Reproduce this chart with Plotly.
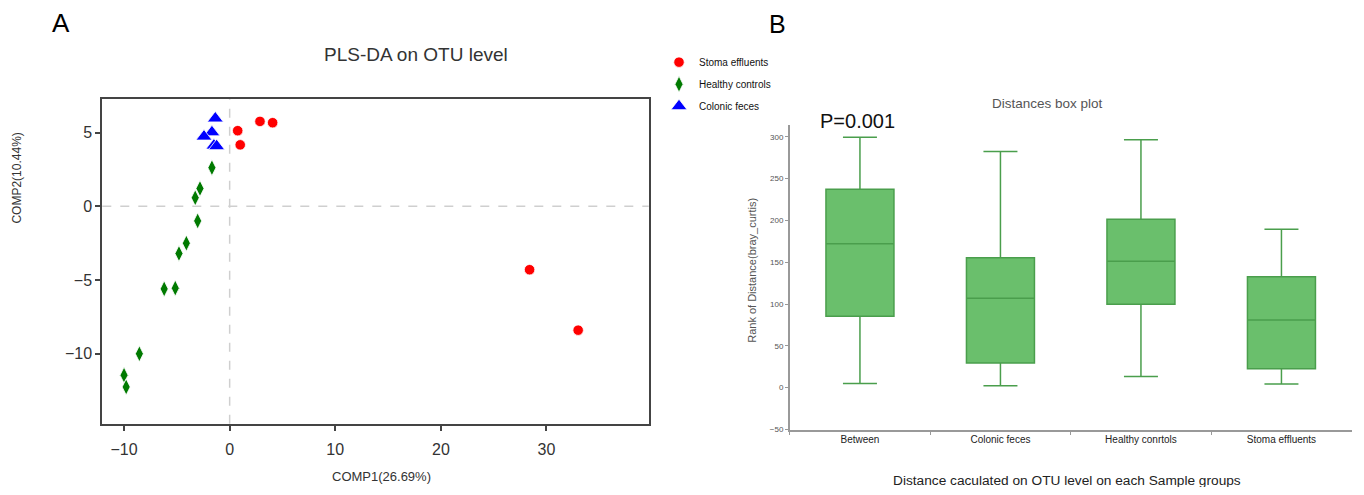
import plotly.graph_objects as go

# ---------------- Panel A data (PLS-DA scores) ----------------
stoma_x = [0.76, 1.0, 2.87, 4.07, 28.4, 33.0]
stoma_y = [5.13, 4.17, 5.76, 5.67, -4.3, -8.4]

healthy_x = [-1.68, -2.81, -3.26, -3.03, -4.1, -4.8, -6.2, -5.15, -8.55, -10.0, -9.8]
healthy_y = [2.62, 1.21, 0.58, -0.99, -2.5, -3.2, -5.6, -5.55, -10.0, -11.45, -12.25]

colonic_x = [-1.36, -1.68, -2.43, -1.49, -1.23]
colonic_y = [5.96, 5.02, 4.73, 4.12, 4.08]

pls_xticks = [-10, 0, 10, 20, 30]
pls_yticks = [-10, -5, 0, 5]

# ---------------- Panel B data (distance box plot) ----------------
groups = ["Between", "Colonic feces", "Healthy conrtols", "Stoma effluents"]
q1 = [85.5, 29.4, 99.8, 22.7]
median = [172.1, 106.9, 151.3, 80.8]
q3 = [237.4, 155.5, 201.4, 132.6]
lowerfence = [4.9, 2.1, 13.2, 4.2]
upperfence = [299.6, 282.5, 296.7, 189.6]
box_yticks = [-50, 0, 50, 100, 150, 200, 250, 300]

FONT = "Liberation Sans, Arial, sans-serif"
OFF = 8  # default page body margin
W, H = 1364 - 2 * OFF, 495 - 2 * OFF

def px(x):
    return (x - OFF) / W

def py(y):
    return 1 - (y - OFF) / H

fig = go.Figure()

fig.add_trace(go.Scatter(
    x=stoma_x, y=stoma_y, mode="markers", name="Stoma effluents",
    marker=dict(symbol="circle", size=10.5, color="#ff0000", line=dict(color="white", width=0.8)),
    xaxis="x", yaxis="y", legendgroup="a"))
fig.add_trace(go.Scatter(
    x=healthy_x, y=healthy_y, mode="markers", name="Healthy controls",
    marker=dict(symbol="diamond-tall", size=11.5, color="#007a00", line=dict(color="white", width=0.8)),
    xaxis="x", yaxis="y", legendgroup="b"))
fig.add_trace(go.Scatter(
    x=colonic_x, y=colonic_y, mode="markers", name="Colonic feces",
    marker=dict(symbol="triangle-up", size=14, color="#0000ff", line=dict(color="white", width=0.8)),
    xaxis="x", yaxis="y", legendgroup="c"))

fig.add_trace(go.Box(
    x=groups, q1=q1, median=median, q3=q3,
    lowerfence=lowerfence, upperfence=upperfence,
    xaxis="x2", yaxis="y2", showlegend=False,
    fillcolor="#6abf6c", line=dict(color="#4a9e4c", width=1.5),
    width=0.484, whiskerwidth=0.5, boxpoints=False, hoverinfo="skip"))

# zero reference lines in panel A
fig.add_shape(type="line", xref="x", yref="y domain", x0=0, x1=0, y0=0, y1=1,
              line=dict(color="#cfcfcf", width=1.5, dash="dash"), layer="below")
fig.add_shape(type="line", xref="x domain", yref="y", x0=0, x1=1, y0=0, y1=0,
              line=dict(color="#cfcfcf", width=1.5, dash="dash"), layer="below")

fig.update_layout(
    width=W, height=H,
    margin=dict(l=0, r=0, t=0, b=0),
    paper_bgcolor="white", plot_bgcolor="white",
    font=dict(family=FONT, color="#333"),
    showlegend=True,
    legend=dict(x=px(659), y=py(48), xanchor="left", yanchor="top",
                font=dict(size=10, color="#111", family=FONT),
                bgcolor="rgba(0,0,0,0)", tracegroupgap=3, traceorder="grouped",
                itemsizing="trace", itemwidth=30),
    xaxis=dict(domain=[px(102.3), px(648.7)], range=[-12.06, 39.68],
               tickvals=pls_xticks, ticks="outside", ticklen=5, tickwidth=1.5, tickcolor="#444",
               showline=True, mirror=True, linecolor="#444", linewidth=2,
               showgrid=False, zeroline=False, ticklabelstandoff=5,
               tickfont=dict(size=16, color="#333", family=FONT), anchor="y"),
    yaxis=dict(domain=[py(427.3), py(99.3)], range=[-14.75, 7.31],
               tickvals=pls_yticks, ticks="outside", ticklen=5, tickwidth=1.5, tickcolor="#444",
               showline=True, mirror=True, linecolor="#444", linewidth=2,
               showgrid=False, zeroline=False,
               tickfont=dict(size=16, color="#333", family=FONT), anchor="x"),
    xaxis2=dict(domain=[px(789.7), px(1351.7)], type="category", range=[-0.5, 3.5],
                ticks="outside", tickson="boundaries", ticklen=4, tickcolor="#999",
                showline=True, linecolor="#999", linewidth=1.5,
                showgrid=False, zeroline=False,
                tickfont=dict(size=10, color="#222", family=FONT), anchor="y2"),
    yaxis2=dict(domain=[py(433.3), py(126)], range=[-50.4, 314.2],
                tickvals=box_yticks, ticks="outside", ticklen=3, tickcolor="#999",
                showline=True, linecolor="#999", linewidth=1.5,
                showgrid=False, zeroline=False,
                tickfont=dict(size=8, color="#555", family=FONT), anchor="x2"),
)

ann = [
    dict(text="A", x=px(61), y=py(23), size=26, color="#000"),
    dict(text="PLS-DA on OTU level", x=px(416), y=py(55), size=19, color="#333"),
    dict(text="COMP1(26.69%)", x=px(382), y=py(480), size=13, color="#333"),
    dict(text="Distances box plot", x=px(1047), y=py(104), size=13.5, color="#555"),
    dict(text="P=0.001", x=px(857), y=py(122), size=20, color="#111"),
    dict(text="Distance caculated on OTU level on each Sample groups", x=px(1067), y=py(484),
         size=13.7, color="#222"),
]
for a in ann:
    fig.add_annotation(text=a["text"], x=a["x"], y=a["y"], xref="paper", yref="paper",
                       showarrow=False, xanchor="center", yanchor="middle",
                       font=dict(size=a["size"], color=a["color"], family=FONT))

# panel letter B kept inside the page's top edge
fig.add_annotation(text="B", x=px(777), y=1, xref="paper", yref="paper",
                   showarrow=False, xanchor="center", yanchor="top",
                   font=dict(size=25, color="#000", family=FONT))

fig.add_annotation(text="COMP2(10.44%)", x=px(17), y=py(180), xref="paper", yref="paper",
                   showarrow=False, textangle=-90, xanchor="center", yanchor="middle",
                   font=dict(size=12, color="#333", family=FONT))
fig.add_annotation(text="Rank of Distance(bray_curtis)", x=px(752), y=py(273), xref="paper", yref="paper",
                   showarrow=False, textangle=-90, xanchor="center", yanchor="middle",
                   font=dict(size=11, color="#555", family=FONT))

fig.write_html("out.html")
